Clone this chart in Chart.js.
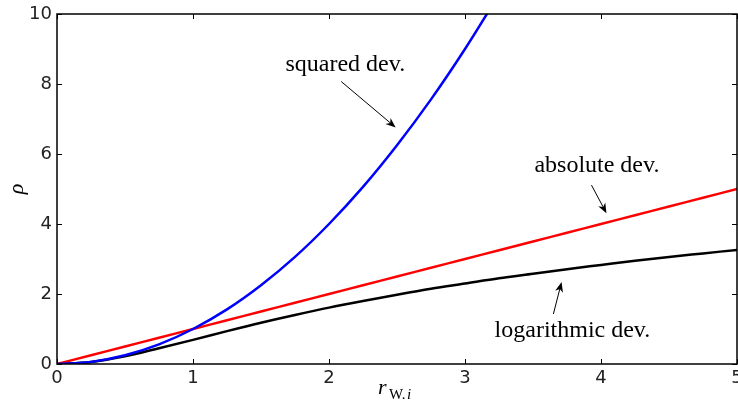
<!DOCTYPE html>
<html>
<head>
<meta charset="utf-8">
<script src="https://cdn.jsdelivr.net/npm/chart.js@4/dist/chart.umd.min.js"></script>
<style>
    html, body { margin: 0; padding: 0; background: #fff; }
    #wrap { width: 738px; height: 403px; position: relative; }
</style>
</head>
<body>
<div id="wrap"><canvas id="chart"></canvas></div>
<script>
// values
const xs = [0, 0.25, 0.5, 0.75, 1, 1.25, 1.5, 1.75, 2, 2.25, 2.5, 2.75, 3, 3.25, 3.5, 3.75, 4, 4.25, 4.5, 4.75, 5];
const squaredDev = [0, 0.06, 0.25, 0.56, 1, 1.56, 2.25, 3.06, 4, 5.06, 6.25, 7.56, 9, 10.56];
const absoluteDev = [0, 0.25, 0.5, 0.75, 1, 1.25, 1.5, 1.75, 2, 2.25, 2.5, 2.75, 3, 3.25, 3.5, 3.75, 4, 4.25, 4.5, 4.75, 5];
const logDev = [0, 0.06, 0.22, 0.45, 0.69, 0.94, 1.18, 1.40, 1.61, 1.80, 1.98, 2.15, 2.30, 2.45, 2.58, 2.71, 2.83, 2.95, 3.06, 3.16, 3.26];
const xTicks = [0, 1, 2, 3, 4, 5];
const yTicks = [0, 2, 4, 6, 8, 10];

// annotations: label, text position, arrow start, arrow tip (data units)
const notes = [
    { text: "squared dev.", at: [2.12, 8.37], from: [2.09, 8.07], to: [2.49, 6.76] },
    { text: "absolute dev.", at: [3.97, 5.49], from: [3.93, 5.11], to: [4.04, 4.31] },
    { text: "logarithmic dev.", at: [3.79, 0.78], from: [3.65, 1.43], to: [3.71, 2.34] }
];

const points = (ys) => ys.map((y, i) => ({ x: xs[i], y: y }));

const frame = {
    id: "frame",
    afterDatasetsDraw(chart) {
        const ctx = chart.ctx;
        const a = chart.chartArea;
        const xs_ = chart.scales.x, ys_ = chart.scales.y;
        ctx.save();
        ctx.strokeStyle = "#000";
        ctx.lineWidth = 1.5;
        ctx.strokeRect(a.left, a.top, a.right - a.left, a.bottom - a.top);
        // inward ticks on all four sides
        ctx.lineWidth = 1;
        xTicks.forEach(v => {
            const px = Math.round(xs_.getPixelForValue(v)) + 0.5;
            ctx.beginPath();
            ctx.moveTo(px, a.bottom); ctx.lineTo(px, a.bottom - 5);
            ctx.moveTo(px, a.top); ctx.lineTo(px, a.top + 5);
            ctx.stroke();
        });
        yTicks.forEach(v => {
            const py = Math.round(ys_.getPixelForValue(v)) + 0.5;
            ctx.beginPath();
            ctx.moveTo(a.left, py); ctx.lineTo(a.left + 5, py);
            ctx.moveTo(a.right, py); ctx.lineTo(a.right - 5, py);
            ctx.stroke();
        });

        // annotations
        ctx.fillStyle = "#000";
        ctx.font = "24px 'Liberation Serif'";
        ctx.textAlign = "center";
        ctx.textBaseline = "alphabetic";
        notes.forEach(n => {
            ctx.fillText(n.text, xs_.getPixelForValue(n.at[0]), ys_.getPixelForValue(n.at[1]));
            const x0 = xs_.getPixelForValue(n.from[0]), y0 = ys_.getPixelForValue(n.from[1]);
            const x1 = xs_.getPixelForValue(n.to[0]), y1 = ys_.getPixelForValue(n.to[1]);
            const ang = Math.atan2(y1 - y0, x1 - x0);
            ctx.lineWidth = 1;
            ctx.beginPath();
            ctx.moveTo(x0, y0);
            ctx.lineTo(x1 - 6 * Math.cos(ang), y1 - 6 * Math.sin(ang));
            ctx.stroke();
            ctx.beginPath();
            ctx.moveTo(x1, y1);
            ctx.lineTo(x1 - 10 * Math.cos(ang) + 4 * Math.sin(ang), y1 - 10 * Math.sin(ang) - 4 * Math.cos(ang));
            ctx.lineTo(x1 - 7 * Math.cos(ang), y1 - 7 * Math.sin(ang));
            ctx.lineTo(x1 - 10 * Math.cos(ang) - 4 * Math.sin(ang), y1 - 10 * Math.sin(ang) + 4 * Math.cos(ang));
            ctx.closePath();
            ctx.fill();
        });

        // axis titles
        ctx.font = "italic 22px 'Liberation Serif'";
        ctx.textAlign = "left";
        const cx = (a.left + a.right) / 2;
        ctx.fillText("r", cx - 19, 394);
        ctx.font = "15px 'Liberation Serif'";
        ctx.fillText("W.", cx - 8, 399);
        ctx.font = "italic 15px 'Liberation Serif'";
        ctx.fillText("i", cx + 10, 399);
        ctx.translate(23, (a.top + a.bottom) / 2);
        ctx.rotate(-Math.PI / 2);
        ctx.font = "italic 22px 'Liberation Serif'";
        ctx.textAlign = "center";
        ctx.fillText("ρ", 0, 0);
        ctx.restore();
    }
};

function line(label, ys, color) {
    return {
        label: label,
        data: points(ys),
        borderColor: color,
        backgroundColor: color,
        borderWidth: 2.5,
        pointRadius: 0,
        showLine: true,
        cubicInterpolationMode: "monotone",
        fill: false
    };
}

new Chart(document.getElementById("chart").getContext("2d"), {
    type: "scatter",
    data: {
        datasets: [
            line("squared dev.", squaredDev, "#0000ff"),
            line("absolute dev.", absoluteDev, "#ff0000"),
            line("logarithmic dev.", logDev, "#000000")
        ]
    },
    options: {
        responsive: true,
        maintainAspectRatio: false,
        animation: false,
        layout: { padding: { top: 14, right: 1, left: 0, bottom: 0 }, autoPadding: false },
        plugins: { legend: { display: false }, tooltip: { enabled: false } },
        scales: {
            x: {
                type: "linear",
                min: 0,
                max: 5,
                grid: { display: false, drawTicks: false },
                border: { display: false },
                afterFit: (s) => { s.height = 39; s.paddingLeft = 0; s.paddingRight = 0; },
                afterBuildTicks: (s) => { s.ticks = xTicks.map(v => ({ value: v })); },
                ticks: { padding: 4, color: "#222", font: { family: "DejaVu Sans", size: 18 }, maxRotation: 0 }
            },
            y: {
                type: "linear",
                min: 0,
                max: 10,
                grid: { display: false, drawTicks: false },
                border: { display: false },
                afterFit: (s) => { s.width = 57; s.paddingTop = 0; s.paddingBottom = 0; },
                afterBuildTicks: (s) => { s.ticks = yTicks.map(v => ({ value: v })); },
                ticks: { padding: 5, color: "#222", font: { family: "DejaVu Sans", size: 18 } }
            }
        }
    },
    plugins: [frame]
});
</script>
</body>
</html>
